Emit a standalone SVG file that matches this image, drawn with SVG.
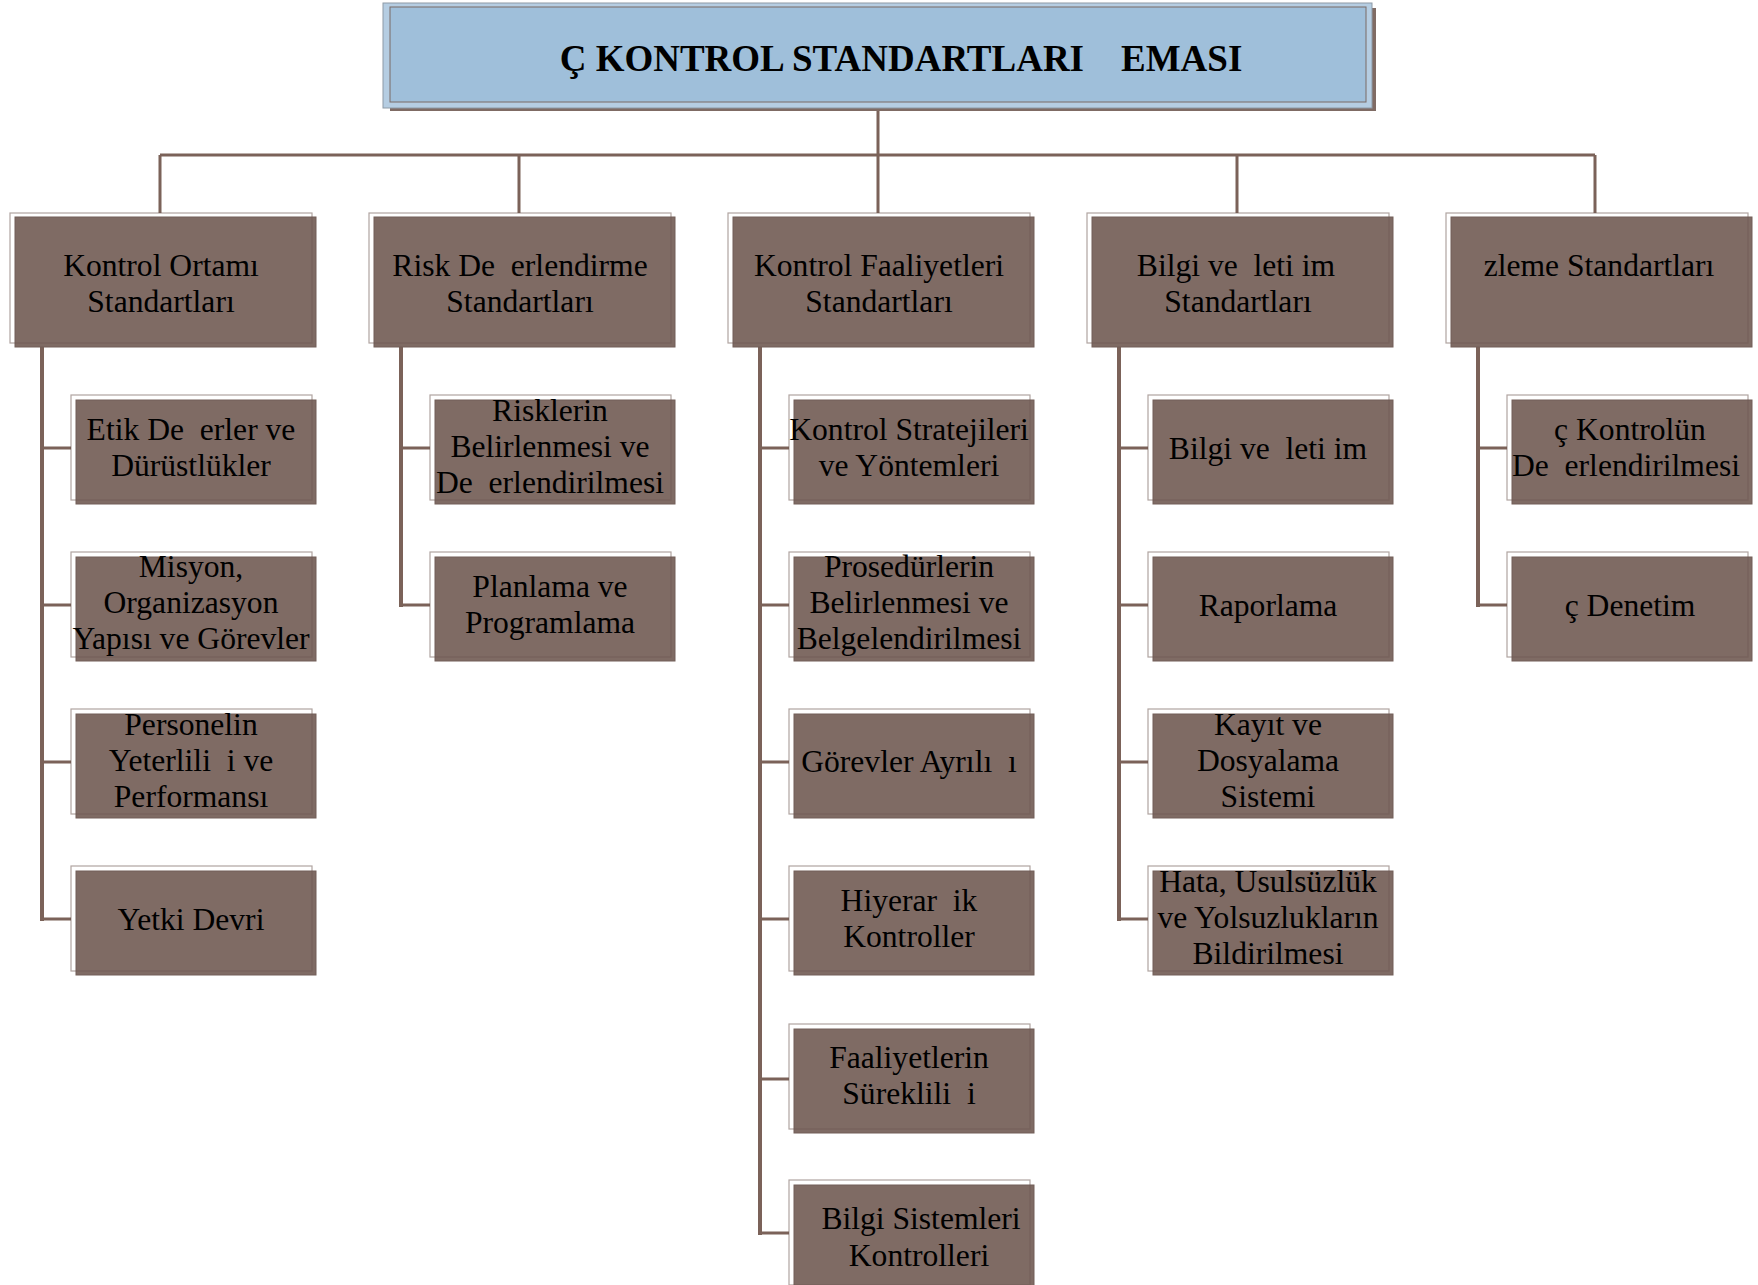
<svg xmlns="http://www.w3.org/2000/svg" width="1758" height="1285" viewBox="0 0 1758 1285">
<style>
text{font-family:"Liberation Serif","Times New Roman",serif;font-size:31.6px;fill:#000;text-anchor:middle;white-space:pre}
.title{font-size:37px;font-weight:bold}
.fill{fill:#7f6b64;stroke:#735f58;stroke-width:1}
.outline{fill:none;stroke:#6f5a52;stroke-opacity:0.55;stroke-width:1.2}
.conn{stroke:#7b6259;fill:none;stroke-linecap:butt}
.thin{stroke-width:3}
.spine{stroke-width:4}
</style>
<rect width="1758" height="1285" fill="#fff"/>

<g id="connectors" class="conn">
  <path class="thin" d="M878 108V155M160 155H1595M160 155V213M519 155V213M878 155V213M1237 155V213M1595 155V213"/>
  <path class="spine" d="M42 347V921M401 347V607M760 347V1235M1119 347V921M1478 347V607"/>
  <path class="thin" d="M42 448H71M42 605H71M42 762H71M42 919H71"/>
  <path class="thin" d="M401 448H430M401 605H430"/>
  <path class="thin" d="M760 448H789M760 605H789M760 762H789M760 919H789M760 1079H789M760 1233H789"/>
  <path class="thin" d="M1119 448H1148M1119 605H1148M1119 762H1148M1119 919H1148"/>
  <path class="thin" d="M1478 448H1507M1478 605H1507"/>
</g>

<g id="title">
  <rect x="390" y="8" width="986" height="103" fill="#7f6b64"/>
  <rect x="383" y="3" width="989" height="105" fill="#b5cde2" stroke="#8d9aa6" stroke-width="1"/>
  <rect x="390" y="7" width="976" height="95" fill="#9fbfda" stroke="#7a6a65" stroke-width="1"/>
  <text class="title" x="901" y="71">Ç KONTROL STANDARTLARI    EMASI</text>
</g>

<g id="l1-kontrol-ortami">
  <rect class="fill" x="15" y="217" width="301" height="130"/>
  <rect class="outline" x="10" y="213" width="302" height="130"/>
  <text><tspan x="161" y="276">Kontrol Ortamı</tspan><tspan x="161" y="312">Standartları</tspan></text>
</g>
<g id="l1-risk">
  <rect class="fill" x="374" y="217" width="301" height="130"/>
  <rect class="outline" x="369" y="213" width="302" height="130"/>
  <text><tspan x="520" y="276">Risk De  erlendirme</tspan><tspan x="520" y="312">Standartları</tspan></text>
</g>
<g id="l1-kontrol-faaliyetleri">
  <rect class="fill" x="733" y="217" width="301" height="130"/>
  <rect class="outline" x="728" y="213" width="302" height="130"/>
  <text><tspan x="879" y="276">Kontrol Faaliyetleri</tspan><tspan x="879" y="312">Standartları</tspan></text>
</g>
<g id="l1-bilgi-iletisim">
  <rect class="fill" x="1092" y="217" width="301" height="130"/>
  <rect class="outline" x="1087" y="213" width="302" height="130"/>
  <text><tspan x="1236" y="276">Bilgi ve  leti im</tspan><tspan x="1238" y="312">Standartları</tspan></text>
</g>
<g id="l1-izleme">
  <rect class="fill" x="1451" y="217" width="301" height="130"/>
  <rect class="outline" x="1446" y="213" width="302" height="130"/>
  <text x="1599" y="276">zleme Standartları</text>
</g>

<!-- Column 1 children -->
<g id="c1-etik">
  <rect class="fill" x="76" y="400" width="240" height="104"/>
  <rect class="outline" x="71" y="395" width="241" height="105"/>
  <text><tspan x="191" y="440">Etik De  erler ve</tspan><tspan x="191" y="476">Dürüstlükler</tspan></text>
</g>
<g id="c1-misyon">
  <rect class="fill" x="76" y="557" width="240" height="104"/>
  <rect class="outline" x="71" y="552" width="241" height="105"/>
  <text><tspan x="191" y="577">Misyon,</tspan><tspan x="191" y="613">Organizasyon</tspan><tspan x="191" y="649">Yapısı ve Görevler</tspan></text>
</g>
<g id="c1-personel">
  <rect class="fill" x="76" y="714" width="240" height="104"/>
  <rect class="outline" x="71" y="709" width="241" height="105"/>
  <text><tspan x="191" y="735">Personelin</tspan><tspan x="191" y="771">Yeterlili  i ve</tspan><tspan x="191" y="807">Performansı</tspan></text>
</g>
<g id="c1-yetki">
  <rect class="fill" x="76" y="871" width="240" height="104"/>
  <rect class="outline" x="71" y="866" width="241" height="105"/>
  <text x="191" y="930">Yetki Devri</text>
</g>

<!-- Column 2 children -->
<g id="c2-riskler">
  <rect class="fill" x="435" y="400" width="240" height="104"/>
  <rect class="outline" x="430" y="395" width="241" height="105"/>
  <text><tspan x="550" y="421">Risklerin</tspan><tspan x="550" y="457">Belirlenmesi ve</tspan><tspan x="550" y="493">De  erlendirilmesi</tspan></text>
</g>
<g id="c2-planlama">
  <rect class="fill" x="435" y="557" width="240" height="104"/>
  <rect class="outline" x="430" y="552" width="241" height="105"/>
  <text><tspan x="550" y="597">Planlama ve</tspan><tspan x="550" y="633">Programlama</tspan></text>
</g>

<!-- Column 3 children -->
<g id="c3-strateji">
  <rect class="fill" x="794" y="400" width="240" height="104"/>
  <rect class="outline" x="789" y="395" width="241" height="105"/>
  <text><tspan x="909" y="440">Kontrol Stratejileri</tspan><tspan x="909" y="476">ve Yöntemleri</tspan></text>
</g>
<g id="c3-prosedur">
  <rect class="fill" x="794" y="557" width="240" height="104"/>
  <rect class="outline" x="789" y="552" width="241" height="105"/>
  <text><tspan x="909" y="577">Prosedürlerin</tspan><tspan x="909" y="613">Belirlenmesi ve</tspan><tspan x="909" y="649">Belgelendirilmesi</tspan></text>
</g>
<g id="c3-gorevler">
  <rect class="fill" x="794" y="714" width="240" height="104"/>
  <rect class="outline" x="789" y="709" width="241" height="105"/>
  <text x="909" y="772">Görevler Ayrılı  ı</text>
</g>
<g id="c3-hiyerarsik">
  <rect class="fill" x="794" y="871" width="240" height="104"/>
  <rect class="outline" x="789" y="866" width="241" height="105"/>
  <text><tspan x="909" y="911">Hiyerar  ik</tspan><tspan x="909" y="947">Kontroller</tspan></text>
</g>
<g id="c3-sureklilik">
  <rect class="fill" x="794" y="1029" width="240" height="104"/>
  <rect class="outline" x="789" y="1024" width="241" height="105"/>
  <text><tspan x="909" y="1068">Faaliyetlerin</tspan><tspan x="909" y="1104">Süreklili  i</tspan></text>
</g>
<g id="c3-bilgi-sistemleri">
  <rect class="fill" x="794" y="1185" width="240" height="104"/>
  <rect class="outline" x="789" y="1180" width="241" height="105"/>
  <text><tspan x="921" y="1229">Bilgi Sistemleri</tspan><tspan x="919" y="1266">Kontrolleri</tspan></text>
</g>

<!-- Column 4 children -->
<g id="c4-bilgi-iletisim">
  <rect class="fill" x="1153" y="400" width="240" height="104"/>
  <rect class="outline" x="1148" y="395" width="241" height="105"/>
  <text x="1268" y="459">Bilgi ve  leti im</text>
</g>
<g id="c4-raporlama">
  <rect class="fill" x="1153" y="557" width="240" height="104"/>
  <rect class="outline" x="1148" y="552" width="241" height="105"/>
  <text x="1268" y="616">Raporlama</text>
</g>
<g id="c4-kayit">
  <rect class="fill" x="1153" y="714" width="240" height="104"/>
  <rect class="outline" x="1148" y="709" width="241" height="105"/>
  <text><tspan x="1268" y="735">Kayıt ve</tspan><tspan x="1268" y="771">Dosyalama</tspan><tspan x="1268" y="807">Sistemi</tspan></text>
</g>
<g id="c4-hata">
  <rect class="fill" x="1153" y="871" width="240" height="104"/>
  <rect class="outline" x="1148" y="866" width="241" height="105"/>
  <text><tspan x="1268" y="892">Hata, Usulsüzlük</tspan><tspan x="1268" y="928">ve Yolsuzlukların</tspan><tspan x="1268" y="964">Bildirilmesi</tspan></text>
</g>

<!-- Column 5 children -->
<g id="c5-ic-kontrol">
  <rect class="fill" x="1512" y="400" width="240" height="104"/>
  <rect class="outline" x="1507" y="395" width="241" height="105"/>
  <text><tspan x="1630" y="440">ç Kontrolün</tspan><tspan x="1626" y="476">De  erlendirilmesi</tspan></text>
</g>
<g id="c5-ic-denetim">
  <rect class="fill" x="1512" y="557" width="240" height="104"/>
  <rect class="outline" x="1507" y="552" width="241" height="105"/>
  <text x="1630" y="616">ç Denetim</text>
</g>
</svg>
